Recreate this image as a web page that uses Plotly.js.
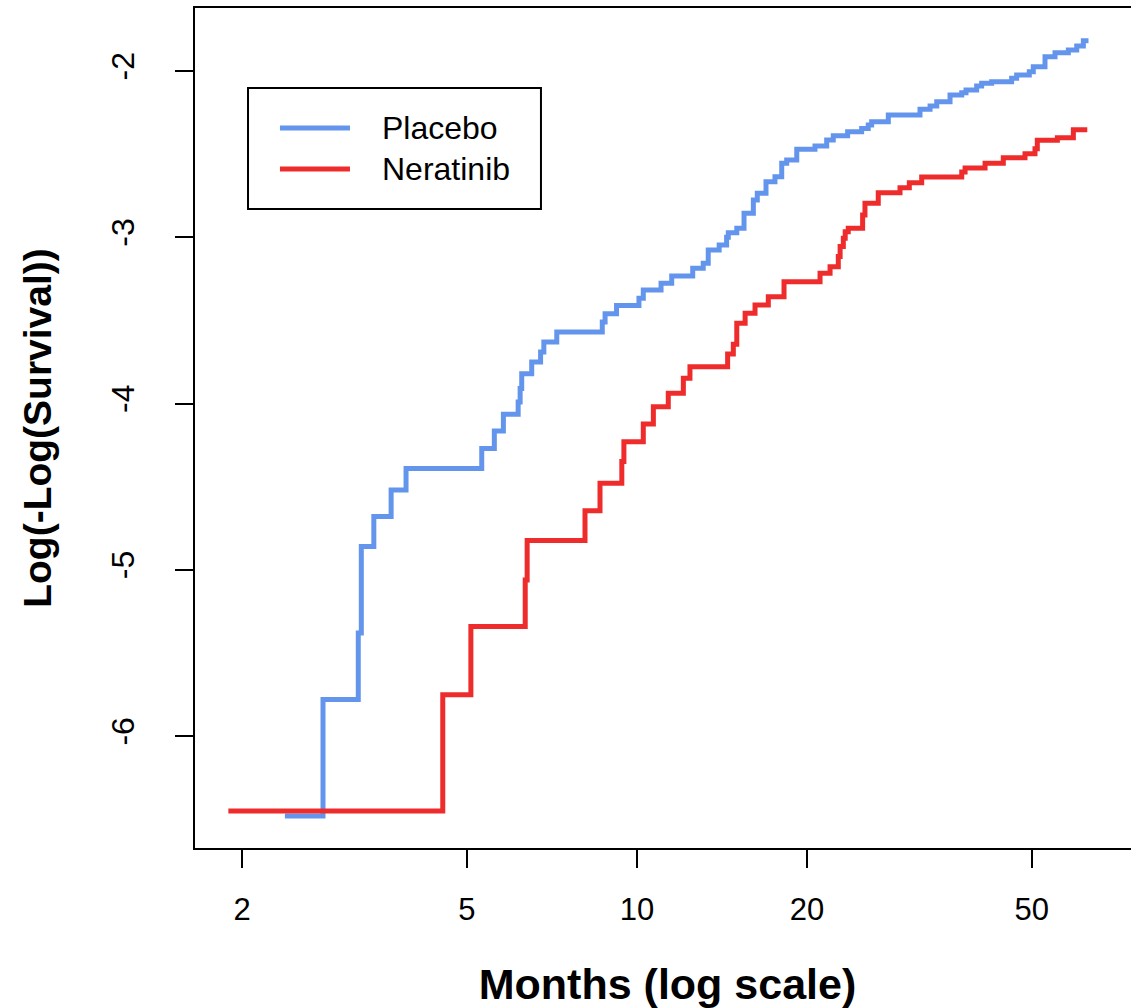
<!DOCTYPE html>
<html>
<head>
<meta charset="utf-8">
<script src="https://cdn.plot.ly/plotly-3.0.1.min.js"></script>
<style>
html, body { margin: 0; padding: 0; overflow: hidden; background: #ffffff; }
#chart { width: 1140px; height: 1008px; }
</style>
</head>
<body>
<div id="chart"></div>
<script>
// ---- Data ----
const seriesNames = ["Placebo", "Neratinib"];
const seriesColors = ["#6495ED", "#EE2C2C"];

const placeboMonths = [2.38, 2.78, 3.21, 3.25, 3.42, 3.67, 3.90, 5.31, 5.59, 5.80, 6.16, 6.21, 6.25, 6.51, 6.75, 6.84, 7.21, 8.68, 8.78, 9.20, 10.08, 10.26, 11.03, 11.52, 12.55, 13.10, 13.37, 13.98, 14.41, 14.51, 15.02, 15.47, 16.07, 16.33, 16.92, 17.55, 18.04, 18.41, 19.18, 20.66, 21.67, 22.26, 23.6, 24.99, 25.67, 26.03, 27.86, 31.70, 33.03, 33.94, 35.83, 37.58, 38.24, 39.94, 40.76, 42.46, 46.06, 47.01, 49.50, 50.31, 52.77, 54.97, 58.04, 60.06, 61.70, 62.37];
const placeboLogLog = [-6.48, -5.78, -5.38, -4.86, -4.68, -4.52, -4.39, -4.27, -4.165, -4.065, -3.99, -3.91, -3.82, -3.75, -3.69, -3.63, -3.57, -3.51, -3.46, -3.41, -3.367, -3.317, -3.277, -3.233, -3.186, -3.156, -3.076, -3.046, -3.000, -2.972, -2.946, -2.856, -2.776, -2.735, -2.666, -2.636, -2.555, -2.535, -2.471, -2.451, -2.415, -2.389, -2.365, -2.345, -2.325, -2.305, -2.265, -2.230, -2.210, -2.185, -2.144, -2.130, -2.114, -2.090, -2.074, -2.064, -2.044, -2.024, -2.004, -1.974, -1.914, -1.890, -1.874, -1.850, -1.818, -1.803];

const neratinibMonths = [1.89, 4.53, 5.08, 6.34, 6.39, 8.09, 8.60, 9.40, 9.48, 10.26, 10.69, 11.36, 12.08, 12.41, 14.47, 14.81, 15.02, 15.54, 16.18, 17.08, 18.21, 21.09, 21.97, 22.72, 22.89, 23.19, 23.37, 23.66, 25.09, 25.33, 26.74, 29.22, 30.35, 31.92, 37.58, 38.1, 41.33, 44.52, 48.64, 50.66, 51.14, 55.5, 59.24, 62.7];
const neratinibLogLog = [-6.45, -5.752, -5.341, -5.061, -4.824, -4.644, -4.479, -4.349, -4.229, -4.123, -4.019, -3.938, -3.848, -3.778, -3.702, -3.643, -3.517, -3.457, -3.407, -3.357, -3.267, -3.217, -3.177, -3.116, -3.056, -3.006, -2.966, -2.946, -2.866, -2.796, -2.732, -2.702, -2.672, -2.638, -2.608, -2.584, -2.554, -2.522, -2.498, -2.468, -2.417, -2.401, -2.353, -2.353];

const xTickVals = [2, 5, 10, 20, 50];
const xTickText = ["2", "5", "10", "20", "50"];
const yTickVals = [-6, -5, -4, -3, -2];
const yTickText = ["-6", "-5", "-4", "-3", "-2"];

const xTitle = "Months (log scale)";
const yTitle = "Log(-Log(Survival))";

// ---- Traces ----
const traces = [
  { x: placeboMonths, y: placeboLogLog, name: seriesNames[0] },
  { x: neratinibMonths, y: neratinibLogLog, name: seriesNames[1] }
].map((t, i) => ({
  x: t.x, y: t.y, name: t.name,
  type: "scatter", mode: "lines",
  line: { shape: "hv", color: seriesColors[i], width: 5 },
  showlegend: false, hoverinfo: "skip"
}));

// ---- R-style legend box (paper coordinates) ----
const legBox = { x0: 0.0561, x1: 0.3661, y0: 0.7607, y1: 0.9048 };
const legRowsY = [0.8571, 0.8083];
const legLineX = [0.0899, 0.1640];
const legTextX = 0.1958;

const shapes = [
  { type: "rect", xref: "paper", yref: "paper", x0: legBox.x0, x1: legBox.x1, y0: legBox.y0, y1: legBox.y1,
    line: { color: "#000000", width: 2 }, fillcolor: "rgba(255,255,255,0)" }
];
const annotations = [];
seriesNames.forEach((nm, i) => {
  shapes.push({ type: "line", xref: "paper", yref: "paper",
    x0: legLineX[0], x1: legLineX[1], y0: legRowsY[i], y1: legRowsY[i],
    line: { color: seriesColors[i], width: 5 } });
  annotations.push({ xref: "paper", yref: "paper", x: legTextX, y: legRowsY[i],
    xanchor: "left", yanchor: "middle", showarrow: false, text: nm,
    font: { family: "Liberation Sans, Arial, sans-serif", size: 32, color: "#000000" } });
});

const layout = {
  width: 1140, height: 1008,
  margin: { l: 195, r: 0, t: 8, b: 160 },
  paper_bgcolor: "#ffffff", plot_bgcolor: "#ffffff",
  font: { family: "Liberation Sans, Arial, sans-serif", color: "#000000" },
  showlegend: false,
  xaxis: {
    type: "log",
    range: [0.2174, 1.8906],
    tickvals: xTickVals, ticktext: xTickText,
    ticks: "outside", ticklen: 18, tickwidth: 2, tickcolor: "#000000",
    tickfont: { size: 31 },
    ticklabelstandoff: 15,
    showline: true, linecolor: "#000000", linewidth: 2, mirror: true,
    showgrid: false, zeroline: false,
    title: { text: xTitle, font: { size: 43, weight: "bold" }, standoff: 50 }
  },
  yaxis: {
    range: [-6.673, -1.621],
    tickvals: yTickVals, ticktext: yTickText,
    tickangle: -90,
    ticks: "outside", ticklen: 18, tickwidth: 2, tickcolor: "#000000",
    tickfont: { size: 32 },
    ticklabelstandoff: 28,
    showline: true, linecolor: "#000000", linewidth: 2, mirror: true,
    showgrid: false, zeroline: false,
    title: { text: yTitle, font: { size: 39, weight: "bold" }, standoff: 42 }
  },
  shapes: shapes,
  annotations: annotations
};

Plotly.newPlot("chart", traces, layout, { staticPlot: true, displayModeBar: false });
</script>
</body>
</html>
